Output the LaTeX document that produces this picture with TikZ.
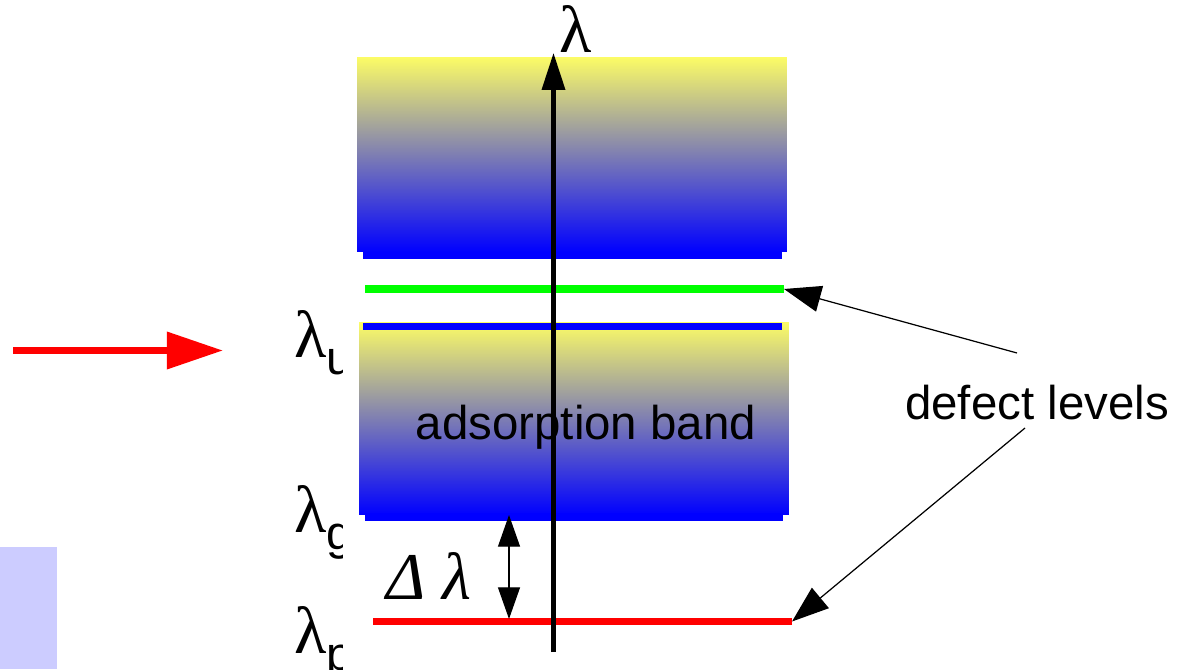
\documentclass[tikz,border=0pt]{standalone}
\usepackage{fontspec}
\setmainfont{Liberation Sans}
\newfontfamily\lamfont{Liberation Serif}
\usetikzlibrary{arrows.meta}
\definecolor{bandtop}{RGB}{252,252,102}
\definecolor{bandbot}{RGB}{0,0,255}
\definecolor{lvlgreen}{RGB}{0,255,0}
\definecolor{lvlred}{RGB}{255,0,0}
\definecolor{padcol}{RGB}{204,204,255}
\newcommand{\lam}{{\lamfont\fontsize{38}{38}\selectfont λ}}
\newcommand{\lamsub}[1]{\lam\raisebox{-10pt}{\fontsize{27}{27}\selectfont #1}}

\begin{document}
\begin{tikzpicture}[x=0.02cm,y=-0.02cm,
  band/.style={rectangle,inner sep=0pt,minimum width=8.6cm,
               top color=bandtop,bottom color=bandbot},
  edge/.style={bandbot,line width=4pt},
  lvl/.style={line width=4.2pt},
  lbl/.style={inner sep=0pt,font=\fontsize{27}{32}\selectfont},
  ar/.style={-{Triangle[length=21pt,width=15pt]},line width=0.7pt},
]
\useasboundingbox (0,0) rectangle (1189,669);

% the two bands
\node[band,minimum height=3.9cm] (upper) at (572,154.5) {};
\node[band,minimum height=3.86cm] (lower) at (574,418.5) {};
\draw[edge] (363,255.5) -- (782,255.5);
\draw[edge] (365,517) -- (783,517);

% levels
\coordinate (greenW) at (365,289);
\coordinate (greenE) at (784,289);
\coordinate (blueW) at (363,326.5);
\coordinate (blueE) at (782,326.5);
\coordinate (redW) at (373,621.5);
\coordinate (redE) at (792,621.5);
\draw[lvl,lvlgreen] (greenW) -- (greenE);
\draw[lvl,bandbot] (blueW) -- (blueE);
\draw[lvl,lvlred] (redW) -- (redE);

\node[lbl,anchor=base] (bandtxt) at (586,439) {adsorption band};

% wavelength axis
\coordinate (axbot) at (553.5,652);
\coordinate (axtop) at (553.5,53);
\draw[line width=2.3pt,-{Triangle[length=21pt,width=13pt]}] (axbot) -- (axtop);
\node[anchor=base,inner sep=0pt] (lamax) at (576,53) {\lam};

% gap
\coordinate (gaptop) at (509,515);
\coordinate (gapbot) at (509,619);
\draw[line width=0.7pt,{Triangle[length=18pt,width=12.5pt]}-{Triangle[length=18pt,width=12.5pt]}]
  (gapbot) -- (gaptop);
\node[anchor=base west,inner sep=0pt] (dlam) at (386,599)
  {\lamfont\itshape\fontsize{38}{38}\selectfont Δ λ};

% clipped labels
\begin{scope}
\clip (0,0) rectangle (342,669);
\node[anchor=base west,inner sep=0pt] (lamu) at (294,357) {\lamsub{u}};
\node[anchor=base west,inner sep=0pt] (lamg) at (294,532) {\lamsub{g}};
\node[anchor=base west,inner sep=0pt] (lamp) at (294,653) {\lamsub{p}};
\end{scope}

% incoming light
\coordinate (inW) at (13,350.5);
\coordinate (inE) at (223,350.5);
\draw[lvlred,line width=4pt,-{Triangle[length=32pt,width=20.5pt]}] (inW) -- (inE);
\fill[padcol] (0,547) rectangle (57,669);

% defect levels
\node[lbl,anchor=base] (defect) at (1037,419) {defect levels};
\coordinate (dtop) at (1017,353);
\coordinate (dbot) at (1025,428);
\draw[ar] (dtop) -- (greenE);
\draw[ar] (dbot) -- (redE);
\end{tikzpicture}
\end{document}
